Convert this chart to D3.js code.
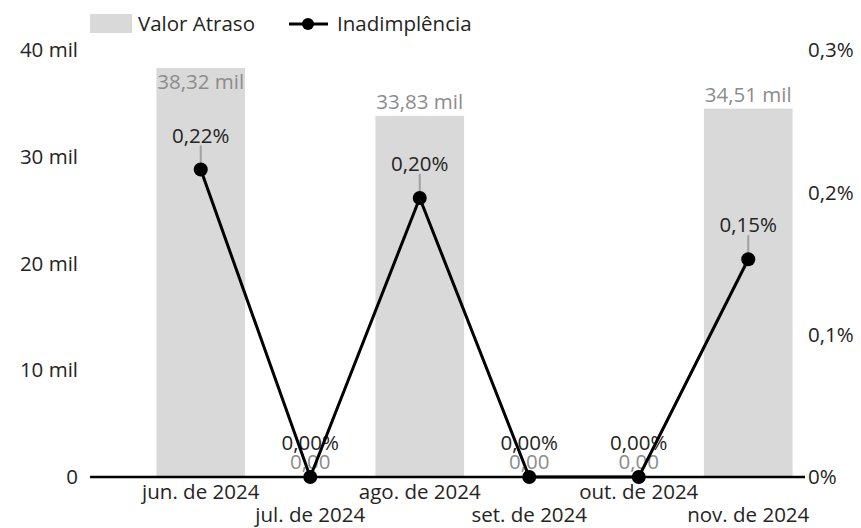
<!DOCTYPE html>
<html>
<head>
<meta charset="utf-8">
<script src="https://cdn.jsdelivr.net/npm/d3@7"></script>
<style>
  html, body { margin: 0; padding: 0; background: #fff; }
  svg { display: block; font-family: "Open Sans", "Noto Sans", sans-serif; }
</style>
</head>
<body>
<svg id="chart" width="861" height="528"></svg>
<script>
const categories = ["jun. de 2024", "jul. de 2024", "ago. de 2024", "set. de 2024", "out. de 2024", "nov. de 2024"];
const valorAtraso = [38320, 0, 33830, 0, 0, 34510];
const inadimplencia = [0.216, 0, 0.196, 0, 0, 0.153];
const leftTicks = [0, 10000, 20000, 30000, 40000];
const leftTickLabels = ["0", "10 mil", "20 mil", "30 mil", "40 mil"];
const rightTicks = [0, 0.1, 0.2, 0.3];
const rightTickLabels = ["0%", "0,1%", "0,2%", "0,3%"];
const seriesNames = ["Valor Atraso", "Inadimplência"];

const svg = d3.select("#chart");
const textColor = "#252423";
const grayLabel = "#8c8c8c";
const barColor = "#d9d9d9";
const fs = 20.5;

const x = d3.scaleBand().domain(categories).range([146, 803]).paddingInner(0.19).paddingOuter(0.095);
const yL = d3.scaleLinear().domain([0, 40000]).range([477, 50]);
const yR = d3.scaleLinear().domain([0, 0.3]).range([477, 50]);

const fmtNum = v => d3.format(".2f")(v).replace(".", ",");
const barLabel = v => v === 0 ? "0,00" : fmtNum(v / 1000) + " mil";
const lineLabel = v => fmtNum(v) + "%";

// Left axis labels
svg.append("g").selectAll("text").data(leftTicks).join("text")
  .attr("x", 78).attr("y", d => yL(d)).attr("dy", "0.35em")
  .attr("text-anchor", "end").attr("font-size", fs).attr("fill", textColor)
  .text((d, i) => leftTickLabels[i]);

// Right axis labels
svg.append("g").selectAll("text").data(rightTicks).join("text")
  .attr("x", 808).attr("y", d => yR(d)).attr("dy", "0.35em")
  .attr("text-anchor", "start").attr("font-size", fs).attr("fill", textColor)
  .text((d, i) => rightTickLabels[i]);

// Bars
svg.append("g").selectAll("rect").data(valorAtraso).join("rect")
  .attr("x", (d, i) => x(categories[i]))
  .attr("width", x.bandwidth())
  .attr("y", d => yL(d))
  .attr("height", d => yL(0) - yL(d))
  .attr("fill", barColor);

// Baseline axis
svg.append("line").attr("x1", 90).attr("x2", 805).attr("y1", 477).attr("y2", 477)
  .attr("stroke", "#000").attr("stroke-width", 2.5);

// X labels (staggered)
svg.append("g").selectAll("text").data(categories).join("text")
  .attr("x", d => x(d) + x.bandwidth() / 2)
  .attr("y", (d, i) => i % 2 === 0 ? 492 : 515).attr("dy", "0.35em")
  .attr("text-anchor", "middle").attr("font-size", fs).attr("fill", textColor)
  .text(d => d);

// Bar labels
svg.append("g").selectAll("text").data(valorAtraso).join("text")
  .attr("x", (d, i) => x(categories[i]) + x.bandwidth() / 2)
  .attr("y", d => {
    const top = yL(d);
    if (d === 0) return 462;
    return (top - 14 - 12 < 50) ? top + 14 : top - 14;
  })
  .attr("dy", "0.35em")
  .attr("text-anchor", "middle").attr("font-size", fs).attr("fill", grayLabel)
  .text(d => barLabel(d));

// Line labels + leaders
const lg = svg.append("g");
inadimplencia.forEach((v, i) => {
  const cx = x(categories[i]) + x.bandwidth() / 2;
  const cy = yR(v);
  if (v > 0) {
    lg.append("line").attr("x1", cx).attr("x2", cx).attr("y1", cy - 24).attr("y2", cy - 6)
      .attr("stroke", "#a0a0a0").attr("stroke-width", 2);
  }
  lg.append("text").attr("x", cx).attr("y", cy - 34).attr("dy", "0.35em")
    .attr("text-anchor", "middle").attr("font-size", fs).attr("fill", textColor)
    .text(lineLabel(v));
});

// Line
const line = d3.line()
  .x((d, i) => x(categories[i]) + x.bandwidth() / 2)
  .y(d => yR(d));
svg.append("path").datum(inadimplencia).attr("d", line)
  .attr("fill", "none").attr("stroke", "#000").attr("stroke-width", 3);

svg.append("g").selectAll("circle").data(inadimplencia).join("circle")
  .attr("cx", (d, i) => x(categories[i]) + x.bandwidth() / 2)
  .attr("cy", d => yR(d)).attr("r", 7).attr("fill", "#000");

// Legend
const leg = svg.append("g");
leg.append("rect").attr("x", 90).attr("y", 14).attr("width", 42).attr("height", 19).attr("fill", barColor);
leg.append("text").attr("x", 138).attr("y", 24).attr("dy", "0.35em").attr("font-size", fs).attr("fill", textColor).text(seriesNames[0]);
leg.append("line").attr("x1", 289).attr("x2", 328).attr("y1", 24).attr("y2", 24).attr("stroke", "#000").attr("stroke-width", 3);
leg.append("circle").attr("cx", 308).attr("cy", 24).attr("r", 6).attr("fill", "#000");
leg.append("text").attr("x", 337).attr("y", 24).attr("dy", "0.35em").attr("font-size", fs).attr("fill", textColor).text(seriesNames[1]);
</script>
</body>
</html>
